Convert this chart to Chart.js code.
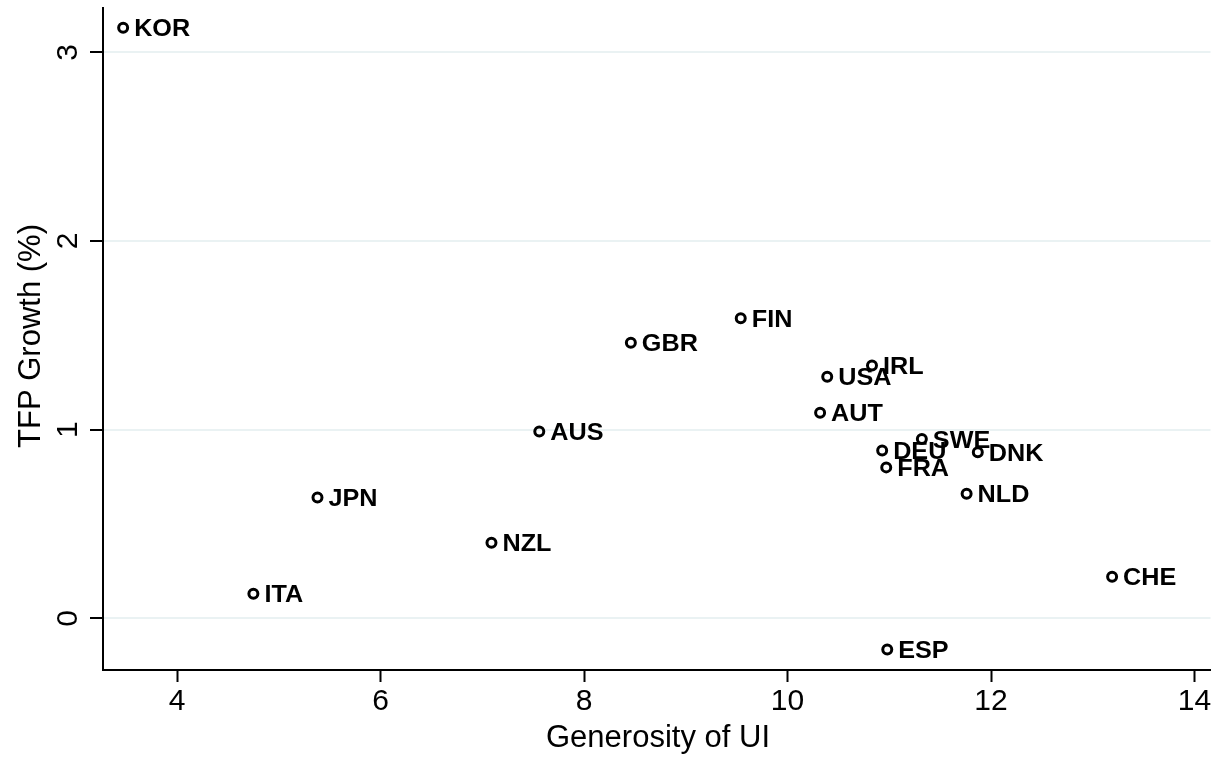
<!DOCTYPE html>
<html>
<head>
<meta charset="utf-8">
<script src="https://cdn.jsdelivr.net/npm/chart.js@4.4.1/dist/chart.umd.min.js"></script>
<style>
  html, body { margin: 0; padding: 0; background: #fff; }
  #wrap { width: 1218px; height: 757px; }
</style>
</head>
<body>
<div id="wrap"><canvas id="chart"></canvas></div>
<script>
// countries and values
const countries = ['KOR', 'ITA', 'JPN', 'NZL', 'AUS', 'GBR', 'FIN', 'USA', 'IRL', 'AUT', 'DEU', 'SWE', 'DNK', 'FRA', 'NLD', 'CHE', 'ESP'];
const generosity = [3.47, 4.75, 5.38, 7.09, 7.56, 8.46, 9.54, 10.39, 10.83, 10.32, 10.93, 11.32, 11.87, 10.97, 11.76, 13.19, 10.98];
const tfpGrowth = [3.13, 0.13, 0.64, 0.40, 0.99, 1.46, 1.59, 1.28, 1.34, 1.09, 0.89, 0.95, 0.88, 0.80, 0.66, 0.22, -0.165];

const xTicks = [4, 6, 8, 10, 12, 14];
const yTicks = [0, 1, 2, 3];

const fontFamily = "'Liberation Sans', Arial, sans-serif";

//labels next to each marker
const pointLabels = {
    id: 'pointLabels',
    afterDatasetsDraw(chart) {
        const ctx = chart.ctx;
        const meta = chart.getDatasetMeta(0);
        ctx.save();
        ctx.fillStyle = '#000';
        ctx.font = 'bold 24px ' + fontFamily;
        ctx.textAlign = 'left';
        ctx.textBaseline = 'alphabetic';
        meta.data.forEach((pt, i) => {
            ctx.save();
            ctx.translate(pt.x + 11, pt.y + 8.5);
            ctx.scale(1.05, 1);
            ctx.fillText(countries[i], 0, 0);
            ctx.restore();
        });
        ctx.restore();
    }
};

//rotated y tick labels and axis titles
const axisText = {
    id: 'axisText',
    afterDraw(chart) {
        const ctx = chart.ctx;
        const y = chart.scales.y;
        ctx.save();
        ctx.fillStyle = '#000';
        ctx.font = '30px ' + fontFamily;
        ctx.textAlign = 'center';
        ctx.textBaseline = 'alphabetic';
        y.ticks.forEach(t => {
            const py = y.getPixelForValue(t.value);
            ctx.save();
            ctx.translate(77, py);
            ctx.rotate(-Math.PI / 2);
            ctx.fillText(String(t.value), 0, 0);
            ctx.restore();
        });

        ctx.font = '31px ' + fontFamily;
        ctx.save();
        ctx.translate(40, 336);
        ctx.rotate(-Math.PI / 2);
        ctx.fillText('TFP Growth (%)', 0, 0);
        ctx.restore();

        ctx.fillText('Generosity of UI', 658, 747);
        ctx.restore();
    }
};

new Chart(document.querySelector('#chart'), {
    type: 'scatter',
    data: {
        datasets: [{
            label: 'TFP',
            data: generosity.map((g, i) => ({ x: g, y: tfpGrowth[i] })),
            pointStyle: 'circle',
            pointRadius: 4.5,
            pointHoverRadius: 4.5,
            borderColor: '#000',
            backgroundColor: 'rgba(0,0,0,0)',
            borderWidth: 3
        }]
    },
    options: {
        responsive: true,
        maintainAspectRatio: false,
        animation: false,
        layout: { padding: { left: 0, right: 0, top: 8, bottom: 0 } },
        plugins: {
            legend: { display: false },
            tooltip: { enabled: false }
        },
        scales: {
            x: {
                type: 'linear',
                min: 3.272,
                max: 14.157,
                afterBuildTicks: s => { s.ticks = xTicks.map(v => ({ value: v })); },
                afterFit: s => { s.height = 87; s.paddingLeft = 0; s.paddingRight = 0; },
                border: { display: true, color: '#000', width: 2 },
                grid: { drawOnChartArea: false, drawTicks: true, tickLength: 12, tickColor: '#000', tickWidth: 2 },
                ticks: {
                    color: '#000',
                    padding: 2,
                    maxRotation: 0,
                    font: { family: fontFamily, size: 30 }
                }
            },
            y: {
                type: 'linear',
                min: -0.274,
                max: 3.235,
                afterBuildTicks: s => { s.ticks = yTicks.map(v => ({ value: v })); },
                afterFit: s => { s.width = 103; s.paddingTop = 0; s.paddingBottom = 0; },
                border: { display: true, color: '#000', width: 2 },
                grid: { color: '#eaf2f3', lineWidth: 2, drawTicks: true, tickLength: 13, tickColor: '#000', tickWidth: 2 },
                ticks: { display: false }
            }
        }
    },
    plugins: [pointLabels, axisText]
});
</script>
</body>
</html>
